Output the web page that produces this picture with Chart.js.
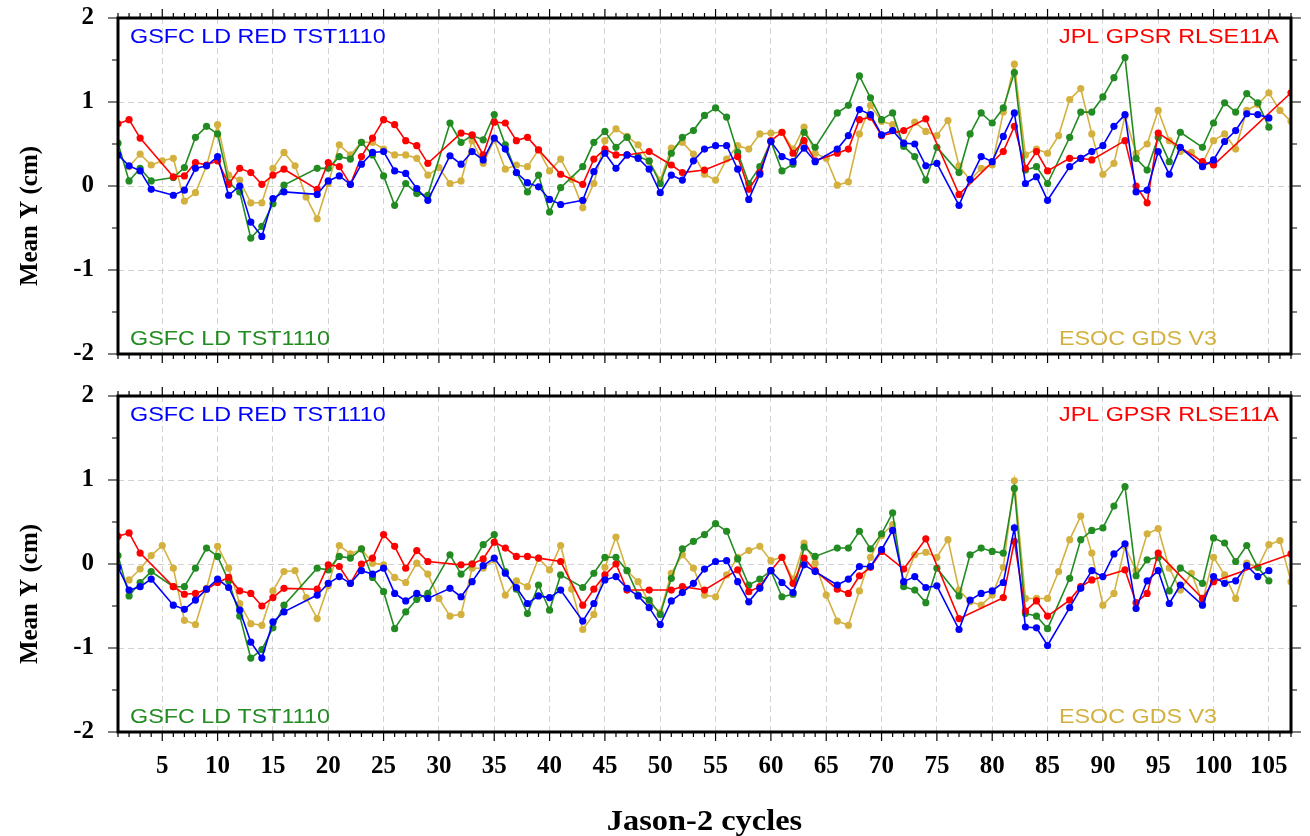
<!DOCTYPE html>
<html>
<head>
<meta charset="utf-8">
<script src="https://cdn.jsdelivr.net/npm/chart.js@4.4.1/dist/chart.umd.min.js"></script>
<style>
  html, body { margin: 0; padding: 0; background: #fff; }
  #wrap { position: relative; width: 1310px; height: 836px; }
  .panel { position: absolute; left: 0; width: 1310px; }
  #p1 { top: 0; height: 380px; }
  #p2 { top: 380px; height: 456px; }
</style>
</head>
<body>
<div id="wrap">
  <div class="panel" id="p1"><canvas id="topChart"></canvas></div>
  <div class="panel" id="p2"><canvas id="bottomChart"></canvas></div>
</div>
<script>
// Jason-2 mean Y (cm) per cycle, four solutions; null = cycle not available
const seriesNames = ["GSFC LD RED TST1110", "JPL GPSR RLSE11A", "GSFC LD TST1110", "ESOC GDS V3"];
const seriesColors = ["#0000ff", "#ff0000", "#228b22", "#d4b13f"];
const xTicks = [5, 10, 15, 20, 25, 30, 35, 40, 45, 50, 55, 60, 65, 70, 75, 80, 85, 90, 95, 100, 105];
const yTicks = [-2, -1, 0, 1, 2];
const cycles = Array.from({ length: 107 }, (_, i) => i + 1);

// upper panel
const topBlue = [
  0.37, 0.24, 0.18, -0.04, null, -0.11, -0.05, 0.21, 0.24, 0.35,
  -0.11, 0.00, -0.43, -0.60, -0.15, -0.07, null, null, -0.10, 0.06,
  0.12, 0.02, 0.26, 0.40, 0.41, 0.18, 0.15, -0.03, -0.17, null,
  0.36, 0.26, 0.41, 0.31, 0.57, 0.44, 0.16, 0.04, -0.01, -0.16,
  -0.22, null, -0.17, 0.17, 0.39, 0.21, 0.37, 0.33, 0.20, -0.08,
  0.13, 0.07, 0.30, 0.44, 0.48, 0.48, 0.20, -0.16, 0.14, 0.53,
  0.35, 0.29, 0.45, 0.29, null, 0.44, 0.60, 0.91, 0.85, 0.61,
  0.66, 0.51, 0.50, 0.24, 0.27, null, -0.23, 0.08, 0.35, 0.29,
  0.59, 0.87, 0.03, 0.11, -0.17, null, 0.23, 0.33, 0.41, 0.48,
  0.71, 0.85, -0.07, -0.05, 0.41, 0.14, 0.46, null, 0.23, 0.31,
  0.53, 0.66, 0.86, 0.85, 0.81, null, null
];
const topRed = [
  0.74, 0.79, 0.57, null, null, 0.11, 0.12, 0.28, 0.25, 0.30,
  0.02, 0.21, 0.16, 0.02, 0.13, 0.20, null, null, -0.04, 0.28,
  0.23, 0.02, 0.35, 0.57, 0.79, 0.73, 0.54, 0.48, 0.27, null,
  null, 0.63, 0.61, 0.37, 0.76, 0.75, 0.54, 0.58, 0.43, null,
  0.14, null, 0.02, 0.32, 0.44, 0.37, 0.37, null, 0.41, null,
  0.25, 0.16, null, 0.19, null, null, 0.35, -0.04, 0.16, 0.54,
  0.64, 0.39, 0.54, 0.30, null, 0.39, 0.44, 0.79, 0.82, 0.60,
  null, 0.66, null, 0.80, null, null, -0.10, null, null, null,
  0.41, 0.71, 0.21, 0.41, 0.18, null, 0.33, 0.33, 0.31, null,
  null, 0.54, 0.00, -0.20, 0.63, null, null, null, 0.29, 0.25,
  null, null, null, null, null, null, 1.11
];
const topGreen = [
  0.51, 0.06, 0.21, 0.06, null, 0.10, 0.22, 0.58, 0.71, 0.62,
  0.04, -0.07, -0.62, -0.48, -0.21, 0.01, null, null, 0.21, 0.21,
  0.35, 0.32, 0.52, 0.37, 0.12, -0.23, 0.03, -0.09, -0.11, null,
  0.75, 0.52, 0.60, 0.55, 0.85, 0.49, 0.16, -0.07, 0.13, -0.31,
  -0.02, null, 0.23, 0.52, 0.65, 0.46, 0.58, 0.35, 0.30, 0.03,
  0.39, 0.58, 0.66, 0.84, 0.93, 0.82, 0.40, 0.03, 0.23, 0.53,
  0.18, 0.26, 0.64, 0.46, null, 0.87, 0.96, 1.31, 1.05, 0.79,
  0.87, 0.47, 0.35, 0.07, 0.46, null, 0.16, 0.62, 0.87, 0.75,
  0.93, 1.35, 0.19, 0.23, 0.03, null, 0.58, 0.88, 0.88, 1.06,
  1.29, 1.53, 0.33, 0.19, 0.58, 0.29, 0.64, null, 0.46, 0.75,
  0.99, 0.88, 1.10, 0.99, 0.70, null, null
];
const topGold = [
  null, 0.23, 0.38, 0.25, 0.30, 0.33, -0.18, -0.08, 0.24, 0.73,
  0.13, 0.07, -0.20, -0.20, 0.21, 0.40, 0.24, -0.13, -0.39, 0.03,
  0.49, 0.37, 0.52, 0.52, 0.44, 0.37, 0.37, 0.33, 0.13, 0.22,
  0.03, 0.06, 0.54, 0.27, 0.55, 0.20, 0.25, 0.23, 0.43, 0.18,
  0.32, 0.08, -0.26, 0.03, 0.54, 0.68, 0.59, 0.49, 0.29, 0.07,
  0.45, 0.52, 0.38, 0.14, 0.07, 0.32, 0.48, 0.44, 0.62, 0.63,
  0.64, 0.44, 0.70, 0.39, 0.33, 0.01, 0.05, 0.62, 0.96, 0.77,
  0.73, 0.51, 0.76, 0.65, 0.60, 0.78, 0.24, 0.07, 0.21, 0.25,
  0.88, 1.45, 0.37, 0.44, 0.39, 0.60, 1.03, 1.16, 0.62, 0.14,
  0.27, 0.83, 0.39, 0.50, 0.90, 0.54, 0.41, 0.40, 0.27, 0.54,
  0.62, 0.44, 0.90, 0.97, 1.11, 0.90, 0.77
];

// lower panel
const bottomBlue = [
  -0.04, -0.31, -0.27, -0.18, null, -0.49, -0.54, -0.43, -0.30, -0.18,
  -0.28, -0.55, -0.93, -1.12, -0.69, -0.57, null, null, -0.37, -0.23,
  -0.15, -0.23, -0.08, -0.12, -0.05, -0.35, -0.44, -0.35, -0.41, null,
  -0.29, -0.39, -0.21, -0.02, 0.07, -0.11, -0.28, -0.47, -0.38, -0.40,
  -0.31, null, -0.68, -0.47, -0.19, -0.15, -0.29, -0.38, -0.52, -0.72,
  -0.44, -0.34, -0.23, -0.06, 0.03, 0.04, -0.21, -0.45, -0.29, -0.08,
  -0.22, -0.34, -0.01, -0.09, null, -0.25, -0.18, -0.03, -0.03, 0.17,
  0.40, -0.21, -0.15, -0.28, -0.26, null, -0.78, -0.43, -0.35, -0.32,
  -0.22, 0.43, -0.75, -0.76, -0.97, null, -0.52, -0.29, -0.08, -0.15,
  0.12, 0.24, -0.53, -0.20, -0.08, -0.47, -0.25, null, -0.49, -0.15,
  -0.23, -0.20, -0.02, -0.15, -0.08, null, null
];
const bottomRed = [
  0.33, 0.37, 0.13, null, null, -0.27, -0.36, -0.35, -0.30, -0.22,
  -0.16, -0.32, -0.35, -0.50, -0.40, -0.29, null, null, -0.30, -0.01,
  -0.03, -0.23, 0.00, 0.07, 0.35, 0.21, -0.05, 0.16, 0.03, null,
  null, -0.01, 0.00, 0.06, 0.26, 0.19, 0.09, 0.09, 0.07, null,
  0.03, null, -0.49, -0.30, -0.13, 0.00, -0.31, null, -0.31, null,
  -0.31, -0.27, null, -0.31, null, null, -0.07, -0.33, -0.27, -0.08,
  0.08, -0.23, 0.07, -0.08, null, -0.30, -0.35, -0.14, -0.04, 0.15,
  null, -0.06, null, 0.30, null, null, -0.65, null, null, null,
  -0.40, 0.27, -0.56, -0.44, -0.62, null, -0.43, -0.27, -0.19, null,
  null, -0.07, -0.46, -0.35, 0.13, null, null, null, -0.41, -0.21,
  null, null, null, null, null, null, 0.12
];
const bottomGreen = [
  0.10, -0.38, -0.22, -0.09, null, -0.27, -0.27, -0.05, 0.19, 0.09,
  -0.20, -0.62, -1.12, -1.02, -0.76, -0.49, null, null, -0.05, -0.07,
  0.09, 0.07, 0.18, -0.16, -0.33, -0.77, -0.57, -0.42, -0.35, null,
  0.11, -0.12, 0.00, 0.23, 0.35, -0.09, -0.30, -0.59, -0.25, -0.55,
  -0.13, null, -0.28, -0.11, 0.08, 0.08, -0.08, -0.37, -0.43, -0.60,
  -0.17, 0.18, 0.27, 0.35, 0.48, 0.39, 0.06, -0.25, -0.18, -0.08,
  -0.39, -0.36, 0.20, 0.09, null, 0.19, 0.19, 0.39, 0.18, 0.36,
  0.61, -0.27, -0.31, -0.46, -0.05, null, -0.38, 0.11, 0.19, 0.15,
  0.13, 0.90, -0.59, -0.62, -0.77, null, -0.17, 0.29, 0.40, 0.43,
  0.69, 0.92, -0.14, 0.05, 0.08, -0.32, -0.05, null, -0.23, 0.31,
  0.25, 0.03, 0.22, -0.04, -0.20, null, null
];
const bottomGold = [
  null, -0.19, -0.06, 0.10, 0.22, -0.05, -0.67, -0.72, -0.29, 0.21,
  -0.05, -0.47, -0.71, -0.73, -0.32, -0.09, -0.08, -0.40, -0.65, -0.26,
  0.22, 0.12, 0.18, 0.01, -0.01, -0.16, -0.22, 0.01, -0.12, -0.41,
  -0.62, -0.60, -0.05, -0.05, 0.05, -0.37, -0.20, -0.27, 0.07, -0.07,
  0.22, -0.30, -0.78, -0.60, -0.04, 0.32, -0.08, -0.21, -0.46, -0.58,
  -0.11, 0.11, -0.05, -0.37, -0.39, -0.13, 0.08, 0.16, 0.21, 0.04,
  0.08, -0.18, 0.25, 0.01, -0.37, -0.68, -0.73, -0.32, 0.08, 0.34,
  0.47, -0.23, 0.11, 0.14, 0.08, 0.29, -0.31, -0.45, -0.49, -0.37,
  -0.04, 0.99, -0.41, -0.41, -0.41, -0.09, 0.29, 0.57, 0.13, -0.49,
  -0.35, 0.21, -0.08, 0.36, 0.42, -0.05, -0.31, -0.11, -0.45, 0.08,
  -0.13, -0.41, 0.01, -0.04, 0.23, 0.28, -0.21
];

const SERIF = "'Liberation Serif', 'Times New Roman', serif";
const SANS = "'Liberation Sans', Arial, sans-serif";

// Text drawn slightly wider than the font, like the original plot
function stretchText(ctx, text, x, y, sx) {
  ctx.save();
  ctx.translate(x, y);
  ctx.scale(sx, 1);
  ctx.fillText(text, 0, 0);
  ctx.restore();
}

// frame, outside ticks on all four sides, panel labels, axis titles
const framePlugin = {
  id: "frame",
  afterDraw(chart, args, opts) {
    const { ctx, chartArea: a, scales: { x, y } } = chart;
    ctx.save();
    ctx.strokeStyle = "#000";
    ctx.lineWidth = 1.2;
    ctx.beginPath();
    for (let c = 1; c <= 107; c++) {
      const px = x.getPixelForValue(c);
      const len = c % 5 === 0 ? 9 : 5;
      ctx.moveTo(px, a.bottom); ctx.lineTo(px, a.bottom + len);
      ctx.moveTo(px, a.top); ctx.lineTo(px, a.top - len);
    }
    for (let v = -2; v <= 2; v += 0.5) {
      const py = y.getPixelForValue(v);
      const len = Number.isInteger(v) ? 10 : 6;
      ctx.moveTo(a.left, py); ctx.lineTo(a.left - len, py);
      ctx.moveTo(a.right, py); ctx.lineTo(a.right + len, py);
    }
    ctx.stroke();
    ctx.lineWidth = 3;
    ctx.strokeRect(a.left, a.top, a.right - a.left, a.bottom - a.top);

    // panel labels
    ctx.font = "21px " + SANS;
    ctx.textBaseline = "alphabetic";
    ctx.textAlign = "left";
    const spots = [
      [a.left + 12, a.top + 25], [a.left + 941, a.top + 25],
      [a.left + 12, a.bottom - 9], [a.left + 941, a.bottom - 9]
    ];
    seriesNames.forEach((name, i) => {
      ctx.fillStyle = seriesColors[i];
      stretchText(ctx, name, spots[i][0], spots[i][1], 1.11);
    });

    // y title
    ctx.fillStyle = "#000";
    ctx.font = "bold 25px " + SERIF;
    ctx.textAlign = "center";
    ctx.textBaseline = "middle";
    ctx.save();
    ctx.translate(31, (a.top + a.bottom) / 2 + 30);
    ctx.rotate(-Math.PI / 2);
    ctx.fillText("Mean Y (cm)", 0, 0);
    ctx.restore();

    if (opts.xTitle) {
      ctx.font = "bold 30px " + SERIF;
      ctx.textBaseline = "alphabetic";
      stretchText(ctx, opts.xTitle, (a.left + a.right) / 2, chart.height - 6, 1.08);
    }
    ctx.restore();
  }
};

function makePanel(canvasId, values, showXLabels, xAxisHeight) {
  const datasets = values.map((vals, i) => ({
    label: seriesNames[i],
    data: vals.map((v, k) => ({ x: cycles[k], y: v })),
    borderColor: seriesColors[i],
    backgroundColor: seriesColors[i],
    borderWidth: 1.6,
    pointRadius: 3.6,
    pointBorderWidth: 0,
    pointBackgroundColor: seriesColors[i],
    spanGaps: true,
    tension: 0
  }));

  // invisible tick marks of fixed length keep the labels away from the frame
  const hiddenTicks = len => ({
    color: "#d2d2d2", lineWidth: 1, drawTicks: true,
    tickLength: len, tickColor: "rgba(0,0,0,0)"
  });

  return new Chart(document.getElementById(canvasId), {
    type: "line",
    data: { datasets },
    plugins: [framePlugin],
    options: {
      responsive: true,
      maintainAspectRatio: false,
      animation: false,
      events: [],
      layout: { padding: { top: showXLabels ? 16 : 18, right: 19, left: 0, bottom: 0 } },
      plugins: {
        legend: { display: false },
        tooltip: { enabled: false },
        frame: { xTitle: showXLabels ? "Jason-2 cycles" : null }
      },
      scales: {
        x: {
          type: "linear",
          min: 1,
          max: 107,
          afterBuildTicks: axis => { axis.ticks = xTicks.map(v => ({ value: v })); },
          afterFit: axis => { axis.height = xAxisHeight; },
          grid: hiddenTicks(20),
          border: { display: false, dash: [6, 4] },
          ticks: {
            display: showXLabels,
            padding: 0,
            maxRotation: 0,
            autoSkip: false,
            color: "#000",
            font: { family: SERIF, size: 25, weight: "bold" }
          }
        },
        y: {
          min: -2,
          max: 2,
          afterBuildTicks: axis => { axis.ticks = yTicks.map(v => ({ value: v })); },
          afterFit: axis => { axis.width = 118; },
          grid: hiddenTicks(24),
          border: { display: false, dash: [6, 4] },
          ticks: {
            padding: 0,
            color: "#000",
            font: { family: SERIF, size: 25, weight: "bold" }
          }
        }
      }
    }
  });
}

makePanel("topChart", [topBlue, topRed, topGreen, topGold], false, 26);
makePanel("bottomChart", [bottomBlue, bottomRed, bottomGreen, bottomGold], true, 104);
</script>
</body>
</html>
